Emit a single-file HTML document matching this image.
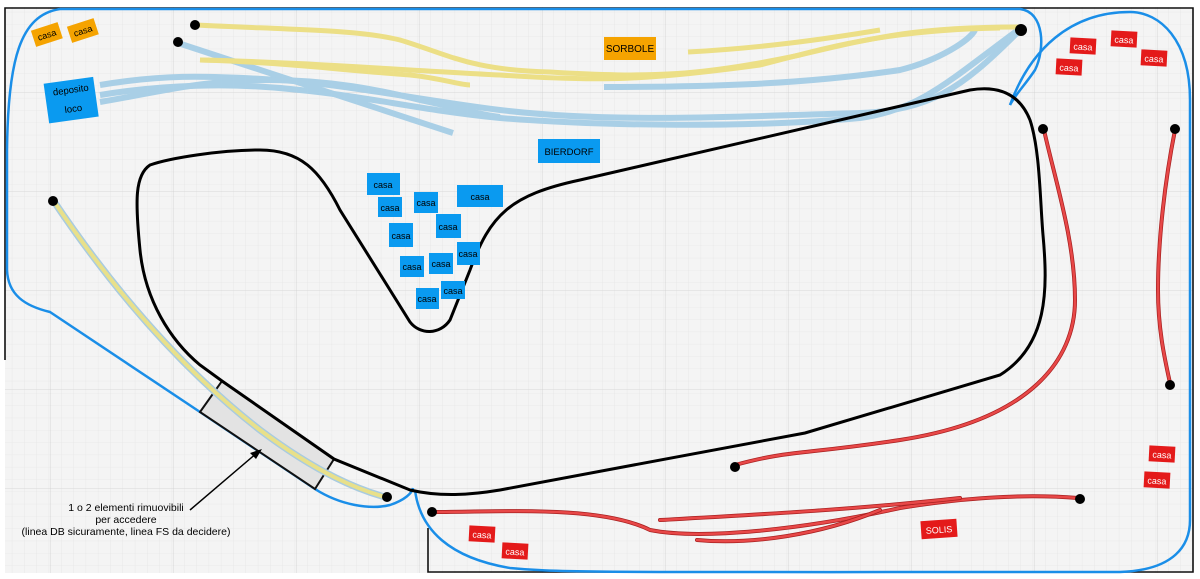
<!DOCTYPE html>
<html><head><meta charset="utf-8"><style>
html,body{margin:0;padding:0;background:#fff}
svg{display:block}
text{font-family:"Liberation Sans",sans-serif}
</style></head><body>
<svg width="1200" height="579" viewBox="0 0 1200 579" xmlns="http://www.w3.org/2000/svg">
<defs>
<pattern id="g" width="12.3" height="12.3" patternUnits="userSpaceOnUse"><path d="M12.3 0V12.3H0" fill="none" stroke="#e2e2e2" stroke-width="0.6"/></pattern>
<pattern id="G" width="123" height="99" patternUnits="userSpaceOnUse" x="-72" y="-6"><path d="M123 0V99H0" fill="none" stroke="#d0d0d0" stroke-width="0.8"/></pattern>
</defs>
<rect width="1200" height="579" fill="#fff"/>
<rect x="5" y="7" width="1188" height="566" fill="#f4f4f4"/>
<rect x="5" y="7" width="1188" height="566" fill="url(#g)"/>
<rect x="5" y="7" width="1188" height="566" fill="url(#G)"/>
<!-- frame -->
<path d="M5 360V8H1193V572H428V528" fill="none" stroke="#111" stroke-width="1.6"/>
<!-- blue outline -->
<g fill="none" stroke="#1a8ee8" stroke-width="2.5">
<path d="M60 9H1020C1045 12 1045 50 1035 70C1025 85 1015 95 1010 105"/>
<path d="M60 9C20 15 8 60 7 150V270C8 295 25 306 50 312L200 412L315 489C340 505 370 510 390 505C405 500 412 493 413 488"/>
<path d="M415 490C420 530 450 558 510 568C560 573 600 572 1120 572C1175 570 1190 545 1190 520V100C1190 40 1160 12 1130 12C1070 12 1030 50 1010 105"/>
</g>
<!-- removable box -->
<polygon points="222,381 200,412 315,489 334,459" fill="#e3e3e3" stroke="#111" stroke-width="2"/>
<!-- yellow left long track -->
<path d="M53 200C100 270 170 360 260 430C320 475 360 490 385 497" fill="none" stroke="#a9cbe0" stroke-width="7"/>
<path d="M53 200C100 270 170 360 260 430C320 475 360 490 385 497" fill="none" stroke="#e8e08a" stroke-width="4"/>
<!-- blue tracks top -->
<g fill="none" stroke="#a9cfe6" stroke-width="6" stroke-linecap="butt">
<path d="M178 43C260 70 350 100 453 133"/>
<path d="M100 85C160 75 200 75 280 80C350 85 420 100 500 110C600 122 700 118 860 113C930 110 960 90 1018 32"/>
<path d="M100 95C160 85 230 82 300 90C370 97 420 110 500 118C600 126 750 128 860 118C920 110 950 80 1018 30"/>
<path d="M100 102C160 92 200 80 270 80C330 80 380 90 420 100C460 108 480 115 500 117"/>
<path d="M604 87C700 87 800 85 900 70C940 60 970 40 975 30"/>
</g>
<!-- yellow tracks top -->
<g fill="none" stroke="#ecdf86" stroke-width="5">
<path d="M195 25C300 30 360 30 400 40C450 55 470 70 550 72C650 78 700 76 800 55C880 36 920 27 1020 27"/>
<path d="M200 60C280 62 340 70 410 75C440 78 460 85 470 85"/>
<path d="M200 60C300 62 400 70 500 75C600 82 650 80 760 65C820 50 880 30 1000 28"/>
<path d="M688 52C760 48 820 40 880 30"/>
</g>
<!-- black main loop -->
<path d="M222 381L200 365C170 340 145 300 140 250C135 200 135 175 150 165C170 158 220 150 260 150C300 150 320 170 340 210L410 322C420 335 440 335 450 320L470 270C490 215 510 195 580 180L970 90C1000 85 1020 95 1030 120C1040 150 1040 200 1043 235C1048 290 1048 345 1000 375L805 433L500 490C470 495 440 497 410 490L334 459Z" fill="none" stroke="#000" stroke-width="3"/>
<path d="M222 381L334 459" fill="none" stroke="#000" stroke-width="2.5"/>
<!-- red tracks -->
<g fill="none" stroke-linecap="round">
<path d="M1044 130C1055 180 1075 240 1075 300C1075 360 1030 420 900 440C800 455 790 450 735 465" stroke="#a82020" stroke-width="4"/>
<path d="M1044 130C1055 180 1075 240 1075 300C1075 360 1030 420 900 440C800 455 790 450 735 465" stroke="#e84848" stroke-width="2.5"/>
<path d="M1175 130C1165 180 1158 240 1158 290C1158 330 1165 360 1170 383" stroke="#a82020" stroke-width="4"/>
<path d="M1175 130C1165 180 1158 240 1158 290C1158 330 1165 360 1170 383" stroke="#e84848" stroke-width="2.5"/>
<path d="M430 512C500 512 600 505 650 530C700 540 800 530 900 508C980 495 1040 495 1078 498" stroke="#a82020" stroke-width="4"/>
<path d="M430 512C500 512 600 505 650 530C700 540 800 530 900 508C980 495 1040 495 1078 498" stroke="#e84848" stroke-width="2.5"/>
<path d="M660 520C750 515 850 510 960 498" stroke="#a82020" stroke-width="4"/>
<path d="M660 520C750 515 850 510 960 498" stroke="#e84848" stroke-width="2.5"/>
<path d="M697 540C750 545 820 535 880 510" stroke="#a82020" stroke-width="4"/>
<path d="M697 540C750 545 820 535 880 510" stroke="#e84848" stroke-width="2.5"/>
</g>
<!-- buffers -->
<g fill="#000">
<circle cx="195" cy="25" r="5"/><circle cx="178" cy="42" r="5"/><circle cx="1021" cy="30" r="6"/>
<circle cx="53" cy="201" r="5"/><circle cx="387" cy="497" r="5"/>
<circle cx="1043" cy="129" r="5"/><circle cx="1175" cy="129" r="5"/><circle cx="1170" cy="385" r="5"/>
<circle cx="735" cy="467" r="5"/><circle cx="1080" cy="499" r="5"/><circle cx="432" cy="512" r="5"/>
</g>
<!-- arrow -->
<line x1="190" y1="510" x2="258" y2="452" stroke="#000" stroke-width="1.5"/>
<polygon points="262,449 250,453 256,459" fill="#000"/>
<g font-size="10.5" text-anchor="middle" fill="#000">
<text x="126" y="511">1 o 2 elementi rimuovibili</text>
<text x="126" y="523">per accedere</text>
<text x="126" y="535">(linea DB sicuramente, linea FS da decidere)</text>
</g>
<!-- orange labels -->
<g font-size="9" text-anchor="middle">
<g transform="rotate(-18 47 35)"><rect x="33" y="26" width="28" height="17" fill="#f5a300"/><text x="47" y="38">casa</text></g>
<g transform="rotate(-18 83 31)"><rect x="69" y="22" width="28" height="17" fill="#f5a300"/><text x="83" y="34">casa</text></g>
<rect x="604" y="37" width="52" height="23" fill="#f5a300"/><text x="630" y="52" font-size="10">SORBOLE</text>
<g transform="rotate(-8 72 99)"><rect x="46" y="80" width="50" height="40" fill="#0a9af0"/><text x="72" y="93" font-size="9.5">deposito</text><text x="72" y="112" font-size="9.5">loco</text></g>
<rect x="538" y="139" width="62" height="24" fill="#0a9af0"/><text x="569" y="155" font-size="9.5">BIERDORF</text>
<rect x="367" y="173" width="33" height="22" fill="#0a9af0"/><text x="383" y="188">casa</text>
<rect x="378" y="197" width="24" height="20" fill="#0a9af0"/><text x="390" y="211">casa</text>
<rect x="414" y="192" width="24" height="21" fill="#0a9af0"/><text x="426" y="206">casa</text>
<rect x="457" y="185" width="46" height="22" fill="#0a9af0"/><text x="480" y="200">casa</text>
<rect x="436" y="214" width="25" height="24" fill="#0a9af0"/><text x="448" y="230">casa</text>
<rect x="389" y="223" width="24" height="24" fill="#0a9af0"/><text x="401" y="239">casa</text>
<rect x="457" y="242" width="23" height="23" fill="#0a9af0"/><text x="468" y="257">casa</text>
<rect x="400" y="256" width="24" height="21" fill="#0a9af0"/><text x="412" y="270">casa</text>
<rect x="429" y="253" width="24" height="21" fill="#0a9af0"/><text x="441" y="267">casa</text>
<rect x="416" y="288" width="23" height="21" fill="#0a9af0"/><text x="427" y="302">casa</text>
<rect x="441" y="281" width="24" height="18" fill="#0a9af0"/><text x="453" y="294">casa</text>
<g fill="#fff">
<g transform="rotate(3 1083 46)"><rect x="1070" y="38" width="26" height="16" fill="#e41a1a"/><text x="1083" y="50">casa</text></g>
<g transform="rotate(3 1124 39)"><rect x="1111" y="31" width="26" height="16" fill="#e41a1a"/><text x="1124" y="43">casa</text></g>
<g transform="rotate(3 1069 67)"><rect x="1056" y="59" width="26" height="16" fill="#e41a1a"/><text x="1069" y="71">casa</text></g>
<g transform="rotate(3 1154 58)"><rect x="1141" y="50" width="26" height="16" fill="#e41a1a"/><text x="1154" y="62">casa</text></g>
<g transform="rotate(3 1162 454)"><rect x="1149" y="446" width="26" height="16" fill="#e41a1a"/><text x="1162" y="458">casa</text></g>
<g transform="rotate(3 1157 480)"><rect x="1144" y="472" width="26" height="16" fill="#e41a1a"/><text x="1157" y="484">casa</text></g>
<g transform="rotate(3 482 534)"><rect x="469" y="526" width="26" height="16" fill="#e41a1a"/><text x="482" y="538">casa</text></g>
<g transform="rotate(3 515 551)"><rect x="502" y="543" width="26" height="16" fill="#e41a1a"/><text x="515" y="555">casa</text></g>
<g transform="rotate(-4 939 529)"><rect x="921" y="520" width="36" height="18" fill="#e41a1a"/><text x="939" y="533">SOLIS</text></g>
</g>
</g>
</svg>
</body></html>
